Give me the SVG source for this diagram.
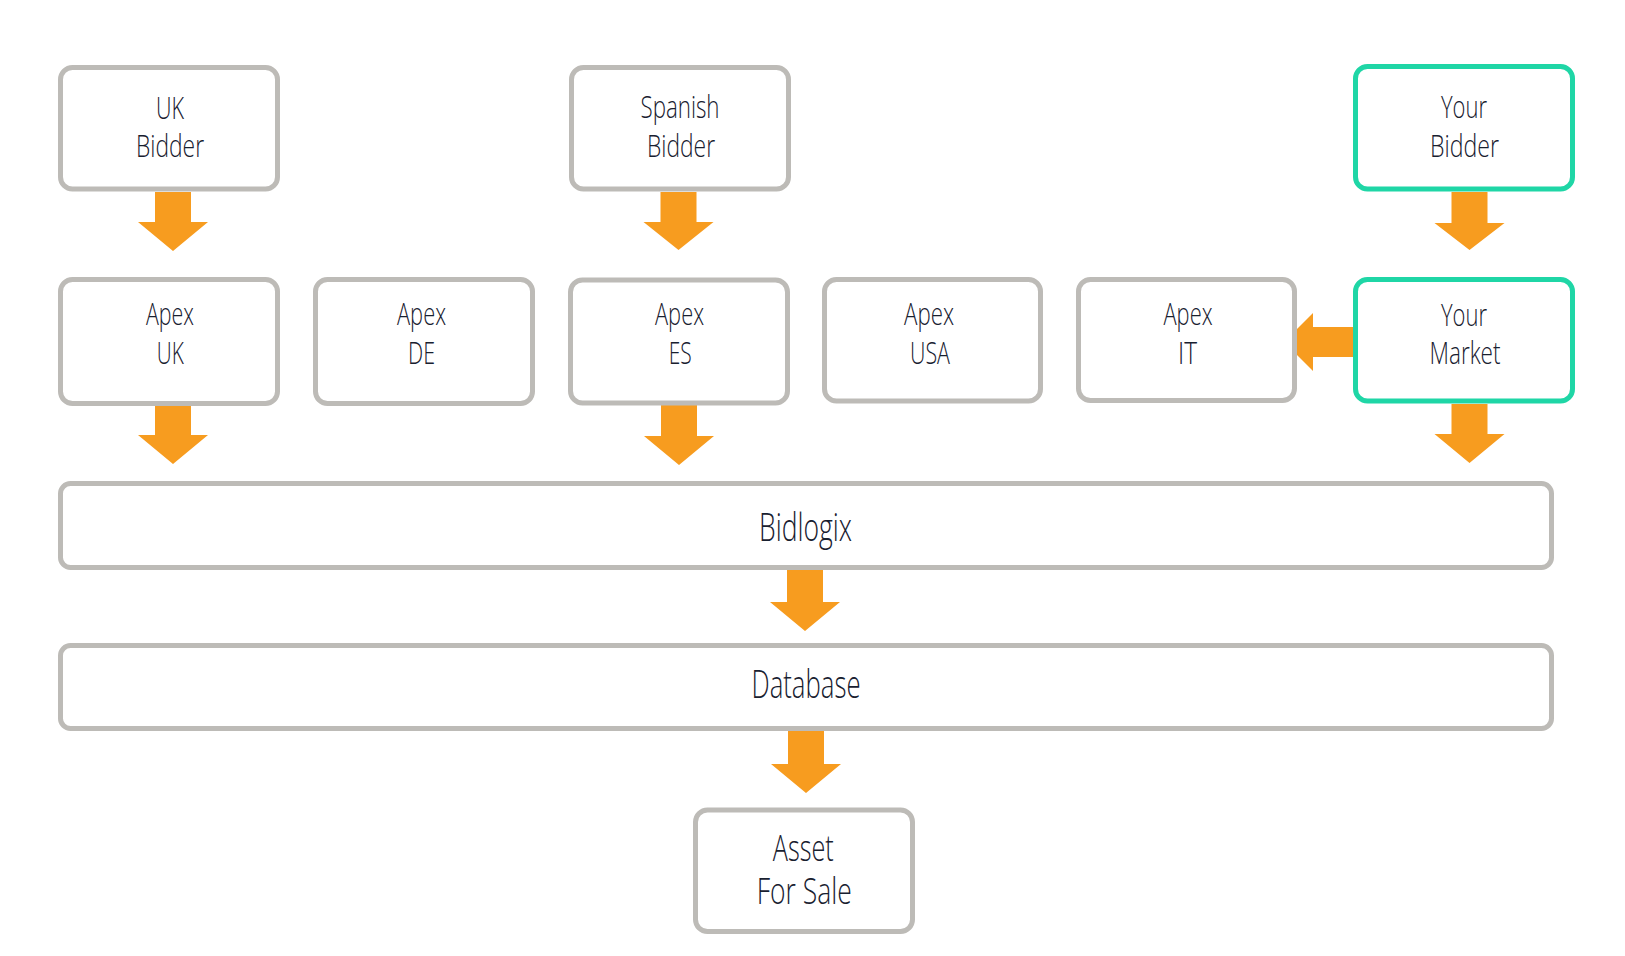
<svg xmlns="http://www.w3.org/2000/svg" width="1625" height="956" viewBox="0 0 1625 956">
<style>
.box{fill:#ffffff;stroke:#bdbbb7;stroke-width:5}
.hl{fill:#ffffff;stroke:#1fd6a6;stroke-width:5}
.t{font-family:"Open Sans","Noto Sans","Liberation Sans",sans-serif;font-weight:300;fill:#18202f;text-anchor:middle}
.s{font-size:32px}
.l{font-size:39px}
.m{font-size:37px}
.arr{fill:#f79c1f}
</style>
<rect width="1625" height="956" fill="#ffffff"/>
<g id="connectors">
<path class="arr" d="M155,192 H191 V222 H208 L173,251 L138,222 H155 Z"/>
<path class="arr" d="M660.5,192 H696.5 V222 H713.5 L678.5,250 L643.5,222 H660.5 Z"/>
<path class="arr" d="M1451.5,192 H1487.5 V223 H1504.5 L1469.5,250 L1434.5,223 H1451.5 Z"/>
<path class="arr" d="M155,406 H191 V435 H208 L173,464 L138,435 H155 Z"/>
<path class="arr" d="M661,405 H697 V436 H714 L679,465 L644,436 H661 Z"/>
<path class="arr" d="M1451.5,404 H1487.5 V434 H1504.5 L1469.5,463 L1434.5,434 H1451.5 Z"/>
<path class="arr" d="M787,570 H823 V602 H840 L805,631 L770,602 H787 Z"/>
<path class="arr" d="M788,731 H824 V764 H841 L806,793 L771,764 H788 Z"/>
<path class="arr" d="M1354,327 V357 H1313 V371 L1284,342 L1313,313 V327 Z"/>
</g>
<g id="uk-bidder">
<rect class="box" x="60.5" y="67.5" width="217" height="121.5" rx="12"/>
<text class="t s"><tspan x="170" y="119" textLength="28" lengthAdjust="spacingAndGlyphs">UK</tspan><tspan x="170" y="156.7" textLength="68" lengthAdjust="spacingAndGlyphs">Bidder</tspan></text>
</g>
<g id="spanish-bidder">
<rect class="box" x="571.5" y="67.5" width="217" height="121.5" rx="12"/>
<text class="t s"><tspan x="680" y="118.3" textLength="79" lengthAdjust="spacingAndGlyphs">Spanish</tspan><tspan x="681" y="156.7" textLength="68" lengthAdjust="spacingAndGlyphs">Bidder</tspan></text>
</g>
<g id="your-bidder">
<rect class="hl" x="1355.5" y="66.5" width="217" height="122.5" rx="12"/>
<text class="t s"><tspan x="1464" y="118.3" textLength="46" lengthAdjust="spacingAndGlyphs">Your</tspan><tspan x="1464.5" y="156.7" textLength="69" lengthAdjust="spacingAndGlyphs">Bidder</tspan></text>
</g>
<g id="apex-uk">
<rect class="box" x="60.5" y="279.5" width="217" height="124" rx="12"/>
<text class="t s"><tspan x="170" y="325" textLength="48" lengthAdjust="spacingAndGlyphs">Apex</tspan><tspan x="170.3" y="364" textLength="27" lengthAdjust="spacingAndGlyphs">UK</tspan></text>
</g>
<g id="apex-de">
<rect class="box" x="315.5" y="279.5" width="217" height="124" rx="12"/>
<text class="t s"><tspan x="421.5" y="325" textLength="49" lengthAdjust="spacingAndGlyphs">Apex</tspan><tspan x="421.5" y="364" textLength="27" lengthAdjust="spacingAndGlyphs">DE</tspan></text>
</g>
<g id="apex-es">
<rect class="box" x="570.5" y="280" width="217" height="123" rx="12"/>
<text class="t s"><tspan x="679.5" y="325" textLength="49" lengthAdjust="spacingAndGlyphs">Apex</tspan><tspan x="680.3" y="364" textLength="23" lengthAdjust="spacingAndGlyphs">ES</tspan></text>
</g>
<g id="apex-usa">
<rect class="box" x="824.5" y="279.5" width="216" height="121.5" rx="12"/>
<text class="t s"><tspan x="929" y="325" textLength="50" lengthAdjust="spacingAndGlyphs">Apex</tspan><tspan x="930" y="364" textLength="40" lengthAdjust="spacingAndGlyphs">USA</tspan></text>
</g>
<g id="apex-it">
<rect class="box" x="1078.5" y="279.5" width="216" height="121" rx="12"/>
<text class="t s"><tspan x="1188" y="325" textLength="49" lengthAdjust="spacingAndGlyphs">Apex</tspan><tspan x="1187.5" y="364" textLength="19" lengthAdjust="spacingAndGlyphs">IT</tspan></text>
</g>
<g id="your-market">
<rect class="hl" x="1355.5" y="279.5" width="217" height="121.5" rx="12"/>
<text class="t s"><tspan x="1464" y="326" textLength="46" lengthAdjust="spacingAndGlyphs">Your</tspan><tspan x="1465" y="364" textLength="71" lengthAdjust="spacingAndGlyphs">Market</tspan></text>
</g>
<g id="bidlogix">
<rect class="box" x="60.5" y="483.5" width="1491" height="84" rx="10"/>
<text class="t l" x="805.5" y="541" textLength="93" lengthAdjust="spacingAndGlyphs">Bidlogix</text>
</g>
<g id="database">
<rect class="box" x="60.5" y="645.5" width="1491" height="83" rx="10"/>
<text class="t l" x="806" y="698.3" textLength="109" lengthAdjust="spacingAndGlyphs">Database</text>
</g>
<g id="asset-for-sale">
<rect class="box" x="695.5" y="810" width="217" height="121.5" rx="12"/>
<text class="t m"><tspan x="803.3" y="860.7" textLength="61" lengthAdjust="spacingAndGlyphs">Asset</tspan><tspan x="804.2" y="904" textLength="95" lengthAdjust="spacingAndGlyphs">For Sale</tspan></text>
</g>
</svg>
